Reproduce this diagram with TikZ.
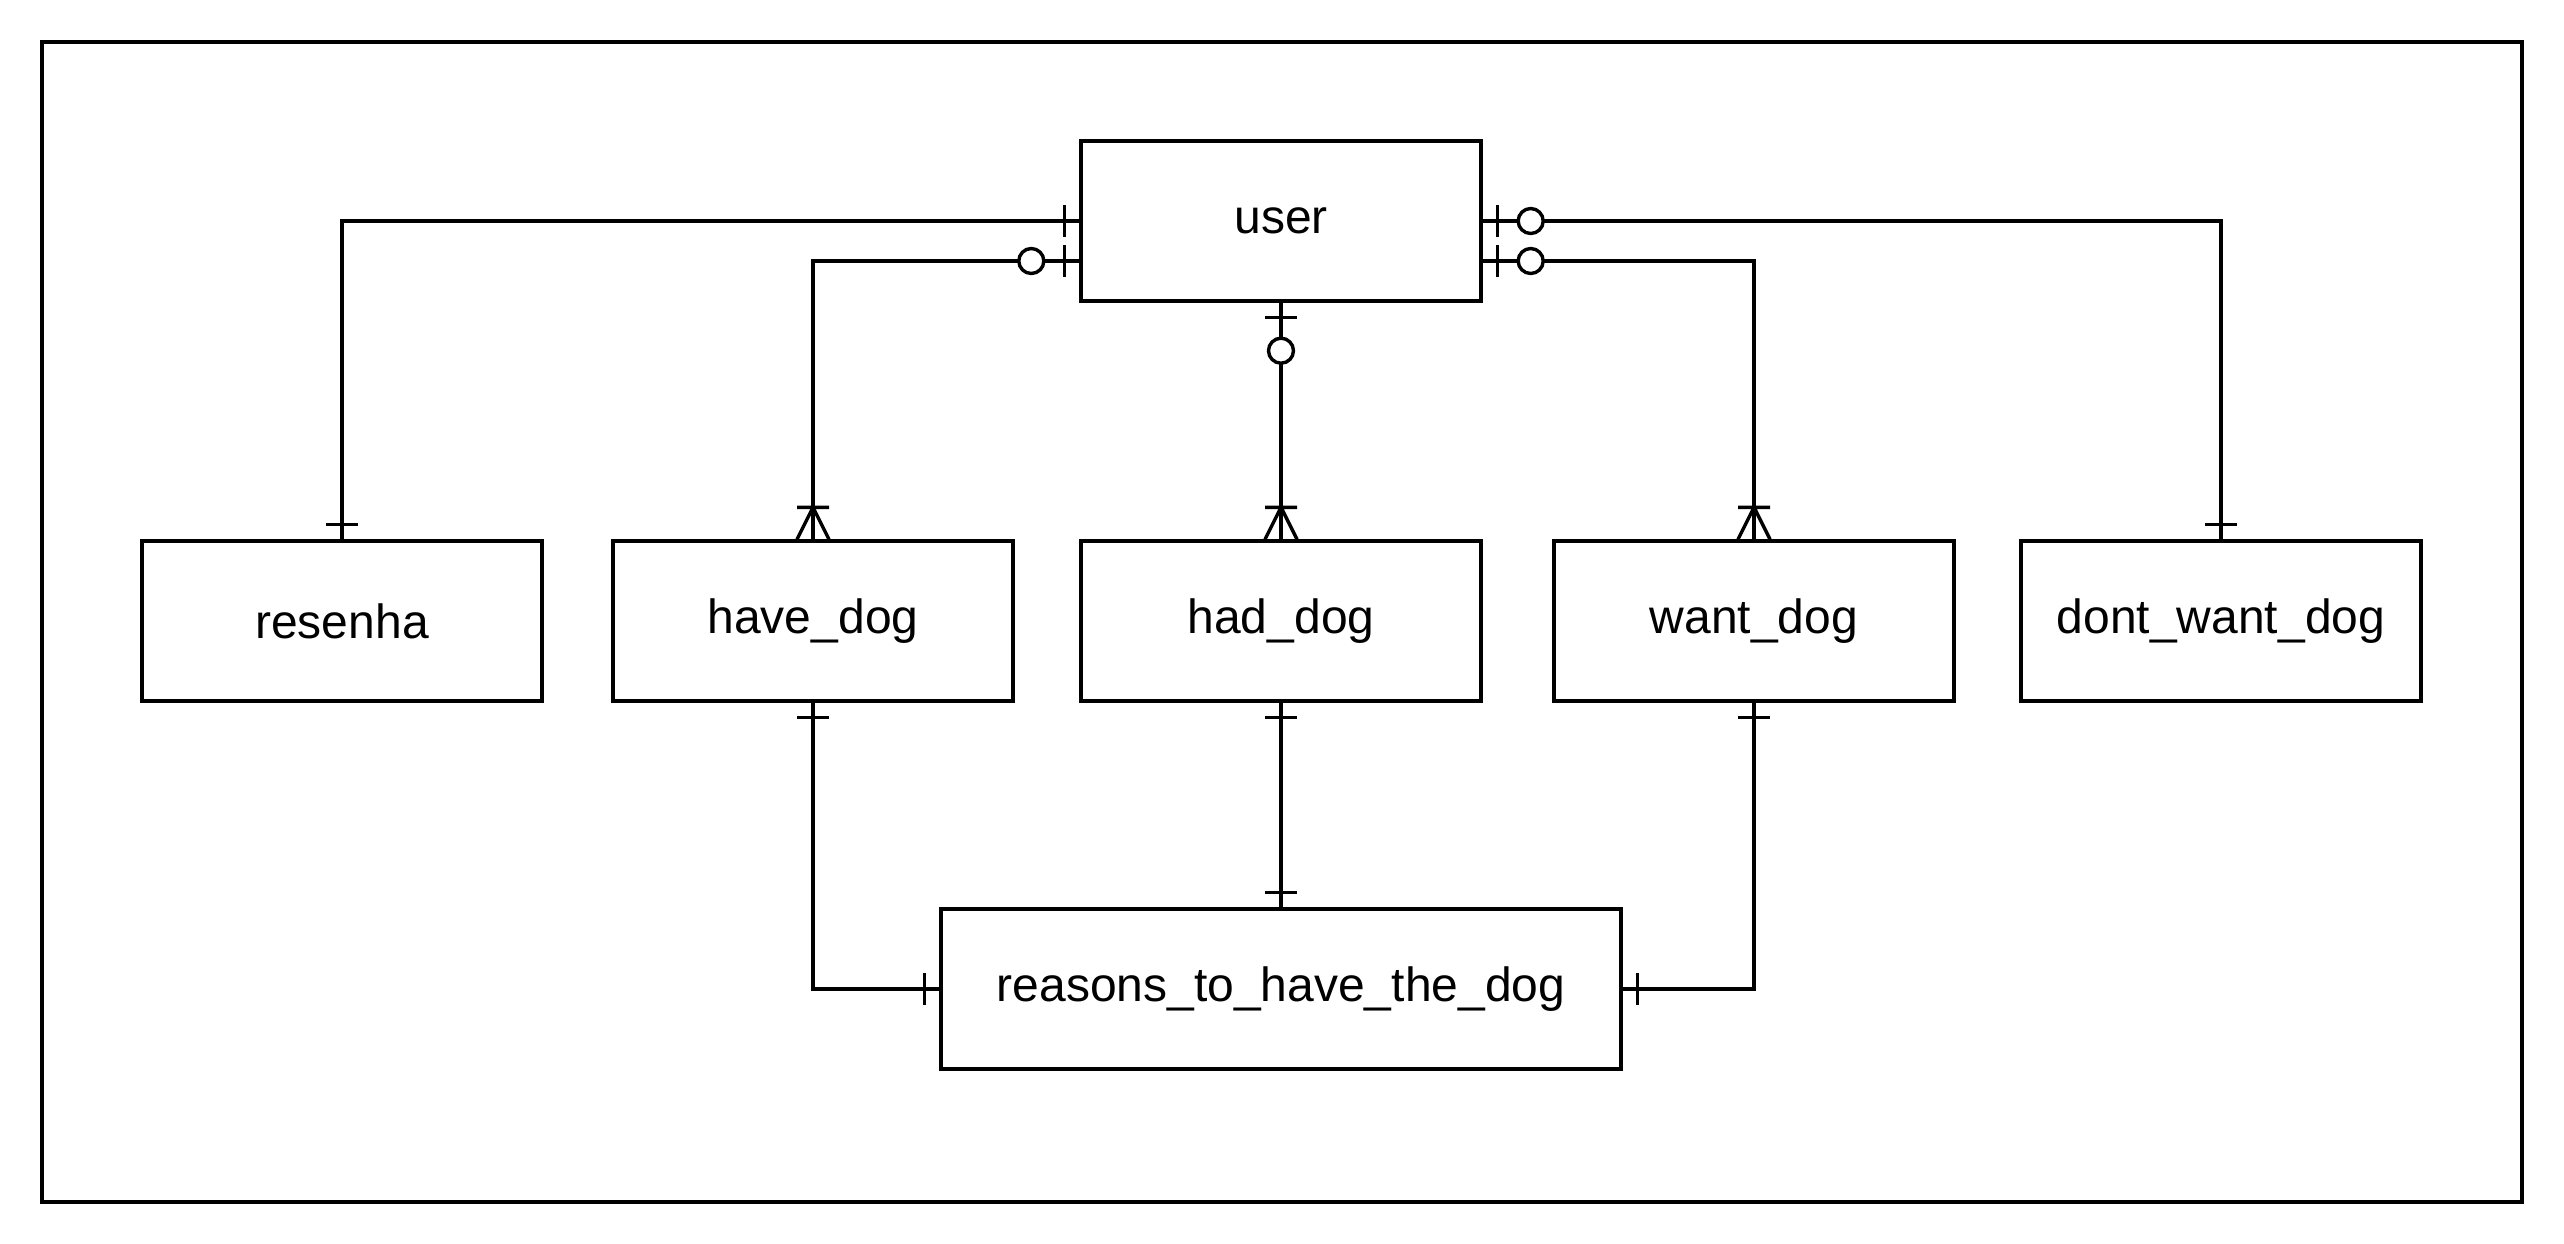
\documentclass[tikz,border=0pt]{standalone}
\usepackage{fontspec}
\setmainfont{Liberation Sans}
\usetikzlibrary{decorations.markings}

\tikzset{
  entity/.style={draw, line width=0.85pt, minimum width=100pt, minimum height=40pt, inner sep=0pt, font=\fontsize{12}{14}\selectfont},
  rel/.style={draw, line width=0.85pt},
  erone/.style={postaction={decorate, decoration={markings, mark=at position #1 with {\draw[line width=0.85pt] (0,-16) -- (0,16);}}}},
  erzero/.style={postaction={decorate, decoration={markings, mark=at position #1 with {\draw[line width=0.85pt, fill=white] (0,0) circle (12.5);}}}},
  ermany/.style={postaction={decorate, decoration={markings, mark=at position -8pt with {\draw[line width=0.85pt] (0,-16) -- (0,16) (32,-16) -- (0,0) -- (32,16);}}}}
}

\begin{document}
\begin{tikzpicture}[x=0.25pt,y=0.25pt,yscale=-1,xscale=1]
\useasboundingbox (0,0) rectangle (2564,1244);

% Frame
\draw [line width=0.9pt] (42,42) rectangle (2522,1202);

% Shape: Rectangle
\node [entity] (user) at (1281,221) {user};
\node [entity] (resenha) at (342,621) {resenha};
\node [entity] (have_dog) at (813,621) {have\_dog};
\node [entity] (had_dog) at (1281,621) {had\_dog};
\node [entity] (want_dog) at (1754,621) {want\_dog};
\node [entity] (dont_want_dog) at (2221,621) {dont\_want\_dog};
\node [entity, minimum width=170pt] (reasons) at (1281,989) {reasons\_to\_have\_the\_dog};

% Connector
\draw [rel, erone=3.75pt, erone=-3.75pt] (user.west) -| (resenha.north);
\draw [rel, erone=3.75pt, erzero=12pt, ermany] ([yshift=10pt]user.west) -| (have_dog.north);
\draw [rel, erone=3.75pt, erzero=12pt, ermany] (user.south) -- (had_dog.north);
\draw [rel, erone=3.75pt, erzero=12pt, ermany] ([yshift=10pt]user.east) -| (want_dog.north);
\draw [rel, erone=3.75pt, erzero=12pt, erone=-3.75pt] (user.east) -| (dont_want_dog.north);

\draw [rel, erone=3.75pt, erone=-3.75pt] (have_dog.south) |- (reasons.west);
\draw [rel, erone=3.75pt, erone=-3.75pt] (had_dog.south) -- (reasons.north);
\draw [rel, erone=3.75pt, erone=-3.75pt] (want_dog.south) |- (reasons.east);

\end{tikzpicture}
\end{document}
